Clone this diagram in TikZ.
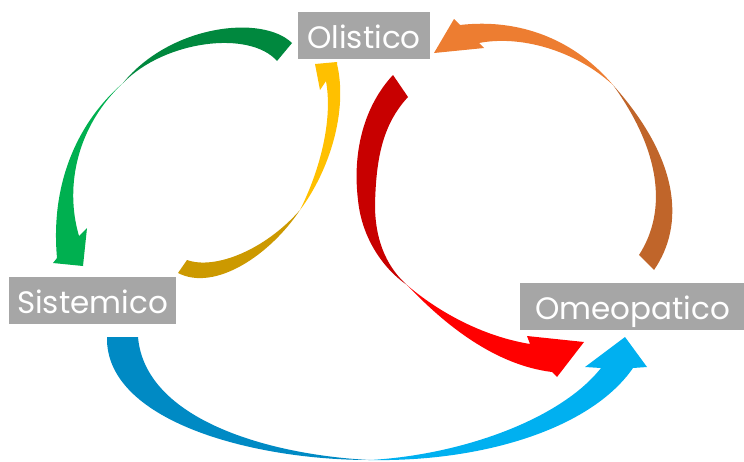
\documentclass[tikz,border=0pt]{standalone}
\usepackage{fontspec}
\setmainfont{Poppins}
\usepackage{tikz}
\usetikzlibrary{positioning}

\definecolor{boxgray}{HTML}{A6A6A6}
\definecolor{greenA}{HTML}{00883E}
\definecolor{greenB}{HTML}{00B050}
\definecolor{goldA}{HTML}{CC9900}
\definecolor{goldB}{HTML}{FFC000}
\definecolor{redA}{HTML}{C80000}
\definecolor{redB}{HTML}{FF0000}
\definecolor{orangeA}{HTML}{C0652A}
\definecolor{orangeB}{HTML}{ED7D31}
\definecolor{blueA}{HTML}{008AC4}
\definecolor{blueB}{HTML}{00B0F0}

\begin{document}
\begin{tikzpicture}[x=1pt,y=-1pt,
      box/.style={fill=boxgray,text=white,inner sep=0pt,minimum height=47pt,
        text height=26pt,text depth=0pt,font=\fontsize{31}{36}\selectfont}
    ]
      \useasboundingbox (0,0) rectangle (744,461);

      \node[box,minimum width=132pt] (oli) at (364,35.5) {Olistico};
      \node[box,minimum width=167pt] (sis) at (92.5,300.5) {Sistemico};
      \node[box,minimum width=225pt] (ome) at (632.5,306.5) {Omeopatico};

      % Olistico -> Sistemico
      \fill[greenA] (292,43) .. controls (262,14) and (170,25) .. (123,83)
        .. controls (165,40) and (250,30) .. (277,61) -- cycle;
      \fill[greenB] (123,83) .. controls (80,120) and (50,180) .. (57,258)
        -- (53,263) -- (83,266) -- (87,228) -- (79,236)
        .. controls (64,185) and (78,125) .. (123,83) -- cycle;

      % Sistemico -> Olistico
      \fill[goldA] (178,273) .. controls (215,292) and (270,255) .. (300,210)
        .. controls (265,250) and (215,270) .. (187,260) -- cycle;
      \fill[goldB] (300,210) .. controls (330,170) and (348,110) .. (337,64)
        -- (337,62) -- (315,64) -- (320,90) -- (326,81)
        .. controls (333,120) and (320,170) .. (300,210) -- cycle;

      % Olistico -> Omeopatico
      \fill[redA] (393,75) .. controls (365,105) and (352,150) .. (358,200)
        .. controls (362,240) and (385,270) .. (407,285)
        .. controls (390,270) and (375,245) .. (375,205)
        .. controls (376,160) and (382,125) .. (408,97) -- cycle;
      \fill[redB] (407,285) .. controls (445,325) and (495,365) .. (552,372)
        -- (557,377) -- (584,342) -- (527,336) -- (530,344)
        .. controls (475,335) and (430,305) .. (407,285) -- cycle;

      % Omeopatico -> Olistico
      \fill[orangeA] (654,270) .. controls (685,225) and (680,160) .. (613,85)
        .. controls (660,150) and (668,210) .. (639,255) -- cycle;
      \fill[orangeB] (613,85) .. controls (575,40) and (520,18) .. (460,25)
        -- (454,19) -- (434,53) -- (484,48) -- (479,43)
        .. controls (520,35) and (575,50) .. (613,85) -- cycle;

      % Sistemico -> Omeopatico
      \fill[blueA] (107,337) .. controls (105,420) and (250,460) .. (370,460)
        .. controls (270,455) and (145,420) .. (138,337) -- cycle;
      \fill[blueB] (370,460) .. controls (480,462) and (590,430) .. (633,368)
        -- (647,367) -- (625,337) -- (585,367) -- (601,368)
        .. controls (560,420) and (460,455) .. (370,460) -- cycle;
    \end{tikzpicture}
\end{document}
